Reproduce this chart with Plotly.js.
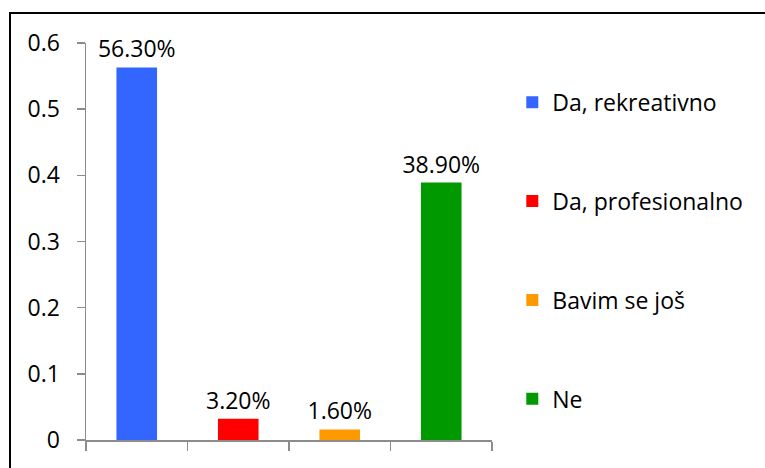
<!DOCTYPE html>
<html>
<head>
<meta charset="utf-8">
<script src="https://cdn.plot.ly/plotly-3.0.1.min.js"></script>
<style>
html,body{margin:0;padding:0;background:#fff;}
#wrap{position:relative;width:765px;height:468px;overflow:hidden;}
#chart{position:absolute;left:0;top:0;width:765px;height:468px;}
#frame{position:absolute;left:9px;top:12px;width:800px;height:500px;border:2px solid #000;box-sizing:border-box;pointer-events:none;}
</style>
</head>
<body>
<div id="wrap"><div id="chart"></div><div id="frame"></div></div>
<script>
const categories = ["Da, rekreativno", "Da, profesionalno", "Bavim se još", "Ne"];
const values = [0.563, 0.032, 0.016, 0.389];
const colors = ["#3366FF", "#FF0000", "#FF9900", "#009900"];
const yTicks = [0, 0.1, 0.2, 0.3, 0.4, 0.5, 0.6];

const FONT = "'Open Sans', 'Noto Sans', sans-serif";
const FS = 23;

const traces = categories.map((c, i) => ({
  type: "bar",
  name: c,
  legendgroup: "g" + i,
  x: [c],
  y: [values[i]],
  marker: {color: colors[i]},
  texttemplate: "%{y:.2%}",
  textposition: "outside",
  constraintext: "none",
  cliponaxis: false,
  textfont: {family: FONT, size: FS, color: "#000"},
  hoverinfo: "skip"
}));

const layout = {
  width: 765, height: 468,
  margin: {l: 86, r: 273, t: 43, b: 28},
  paper_bgcolor: "#fff", plot_bgcolor: "#fff",
  barmode: "overlay",
  bargap: 0.6,
  showlegend: true,
  font: {family: FONT, size: FS, color: "#000"},
  xaxis: {
    type: "category",
    categoryarray: categories,
    showticklabels: false,
    tickson: "boundaries",
    ticks: "outside", ticklen: 9, tickcolor: "#8c8c8c", tickwidth: 1.5,
    showline: true, linecolor: "#8c8c8c", linewidth: 1.5,
    showgrid: false, zeroline: false, fixedrange: true
  },
  yaxis: {
    range: [0, 0.6],
    tickvals: yTicks,
    ticktext: yTicks.map(v => String(v)),
    ticks: "outside", ticklen: 8, tickcolor: "#8c8c8c", tickwidth: 1.5,
    ticklabelstandoff: 12,
    showline: true, linecolor: "#8c8c8c", linewidth: 1.5,
    showgrid: false, zeroline: false,
    tickfont: {family: FONT, size: FS, color: "#000"}
  },
  legend: {
    x: 1.05, xanchor: "left",
    y: 0.905, yanchor: "top",
    tracegroupgap: 66,
    font: {family: FONT, size: FS, color: "#000"},
    itemclick: false, itemdoubleclick: false,
    bgcolor: "rgba(0,0,0,0)"
  }
};

Plotly.newPlot("chart", traces, layout, {displayModeBar: false, staticPlot: true});
</script>
</body>
</html>
